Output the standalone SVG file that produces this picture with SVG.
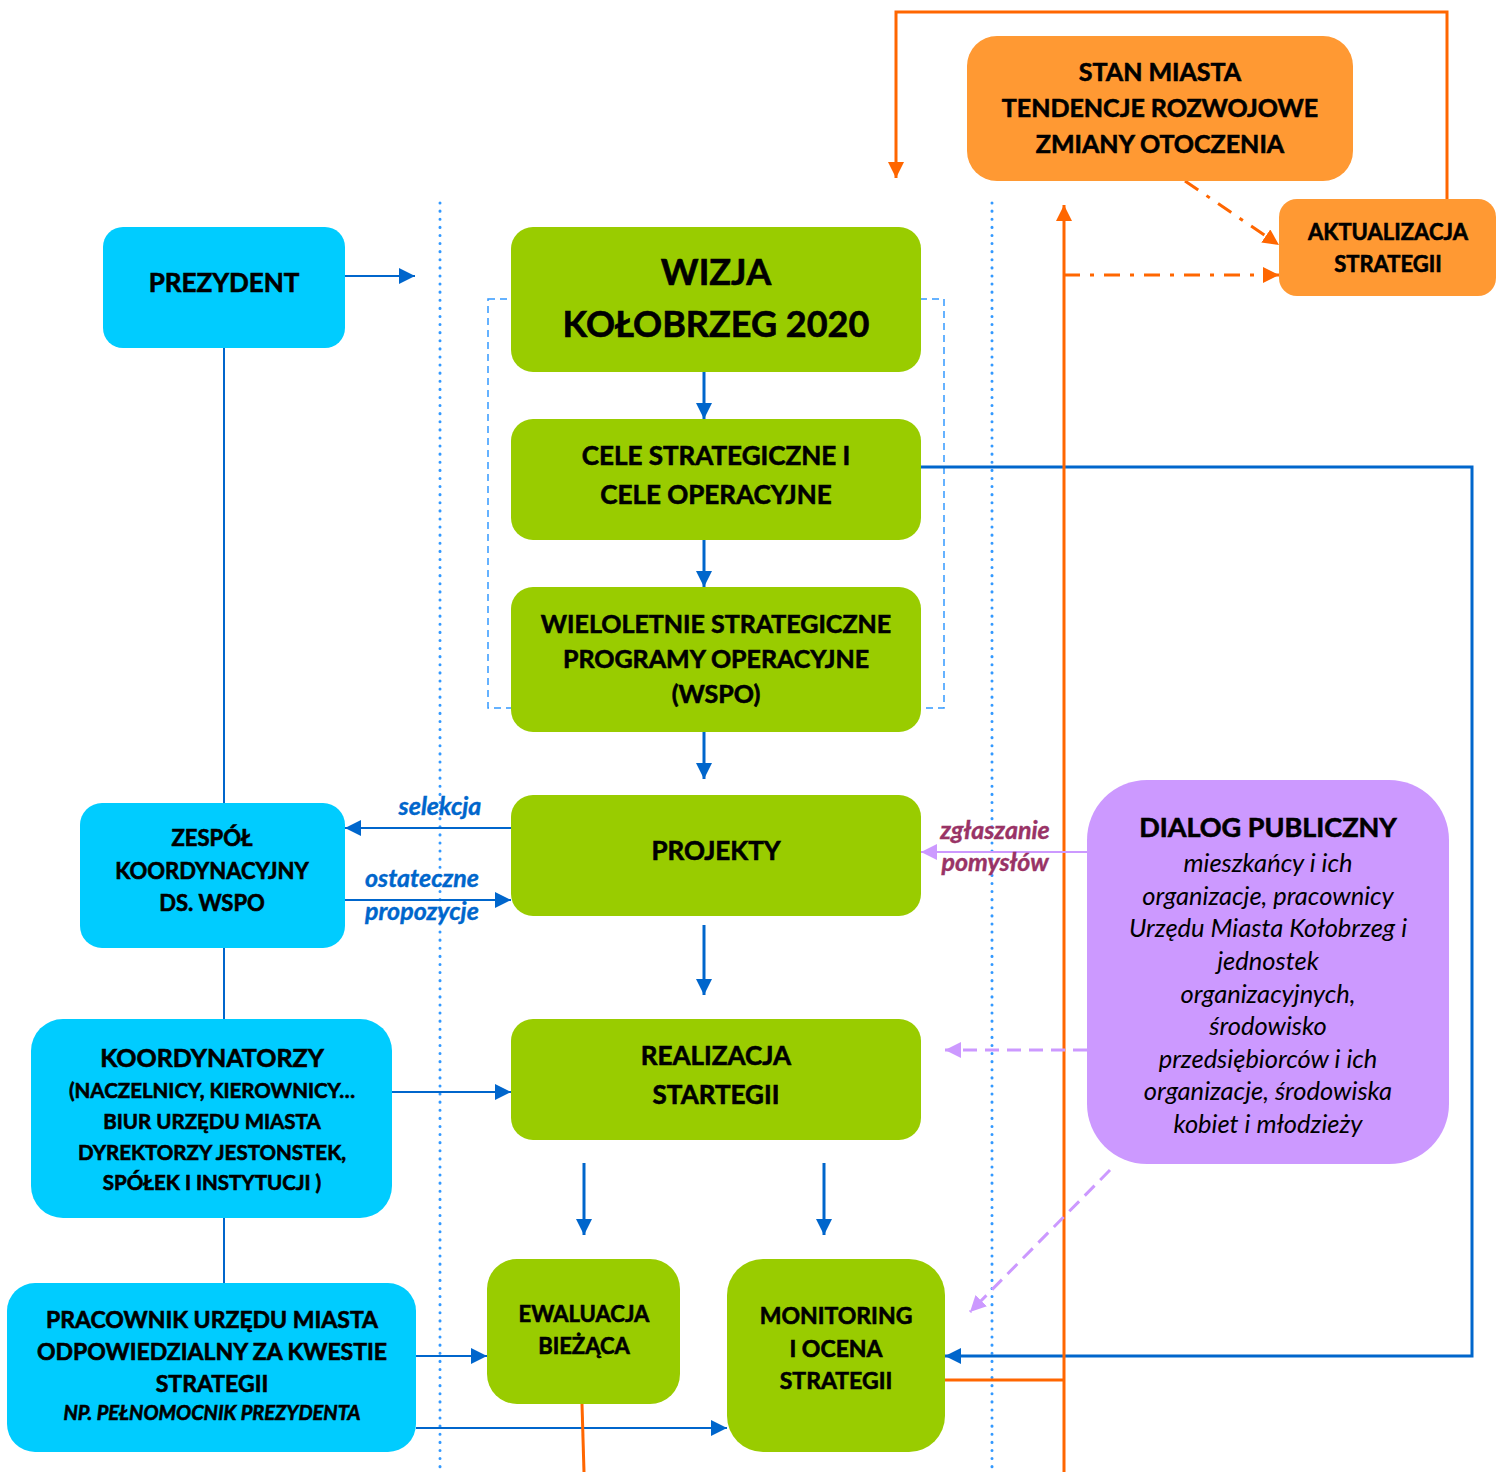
<svg xmlns="http://www.w3.org/2000/svg" width="1496" height="1472" viewBox="0 0 1496 1472">
<defs>
<style>
.t{font-family:Lato,"Liberation Sans",sans-serif;font-weight:bold;fill:#000;stroke:#000;stroke-width:0.6;text-anchor:middle}
.i{font-family:Lato,"Liberation Sans",sans-serif;font-style:italic;fill:#000;text-anchor:middle}
.lb{font-family:Lato,"Liberation Sans",sans-serif;font-style:italic;font-weight:bold;text-anchor:middle;stroke-width:0.4}
.cyan{fill:#00CCFF}
.green{fill:#99CC00}
.orange{fill:#FF9933}
.purple{fill:#CC99FF}
.b{stroke:#0066CC;fill:none}
.o{stroke:#FF6600;fill:none}
.p{stroke:#CC99FF;fill:none}
</style>
<marker id="ab" viewBox="0 0 10 10" refX="10" refY="5" markerWidth="16" markerHeight="16" markerUnits="userSpaceOnUse" orient="auto"><path d="M0,0L10,5L0,10z" fill="#0066CC"/></marker>
<marker id="ao" viewBox="0 0 10 10" refX="10" refY="5" markerWidth="16" markerHeight="16" markerUnits="userSpaceOnUse" orient="auto"><path d="M0,0L10,5L0,10z" fill="#FF6600"/></marker>
<marker id="ap" viewBox="0 0 10 10" refX="10" refY="5" markerWidth="16" markerHeight="16" markerUnits="userSpaceOnUse" orient="auto"><path d="M0,0L10,5L0,10z" fill="#CC99FF"/></marker>
</defs>
<rect width="1496" height="1472" fill="#fff"/>

<g id="guides">
<line x1="440" y1="203" x2="440" y2="1472" stroke="#3399FF" stroke-width="3" stroke-dasharray="0.1 8" stroke-linecap="round"/>
<line x1="992" y1="203" x2="992" y2="1472" stroke="#3399FF" stroke-width="3" stroke-dasharray="0.1 8" stroke-linecap="round"/>
<rect x="488" y="299" width="456" height="409" fill="none" stroke="#3399FF" stroke-width="1.5" stroke-dasharray="7 5"/>
</g>

<g id="connectors">
<line class="b" stroke-width="2" x1="224" y1="348" x2="224" y2="1283"/>
<line class="b" stroke-width="2" x1="345" y1="276" x2="415" y2="276" marker-end="url(#ab)"/>
<line class="b" stroke-width="3" x1="704" y1="372" x2="704" y2="419" marker-end="url(#ab)"/>
<line class="b" stroke-width="3" x1="704" y1="540" x2="704" y2="587" marker-end="url(#ab)"/>
<line class="b" stroke-width="3" x1="704" y1="732" x2="704" y2="779" marker-end="url(#ab)"/>
<line class="b" stroke-width="3" x1="704" y1="925" x2="704" y2="995" marker-end="url(#ab)"/>
<line class="b" stroke-width="3" x1="584" y1="1163" x2="584" y2="1235" marker-end="url(#ab)"/>
<line class="b" stroke-width="3" x1="824" y1="1163" x2="824" y2="1235" marker-end="url(#ab)"/>
<line class="b" stroke-width="2" x1="511" y1="828" x2="345" y2="828" marker-end="url(#ab)"/>
<line class="b" stroke-width="2" x1="345" y1="900" x2="511" y2="900" marker-end="url(#ab)"/>
<line class="b" stroke-width="2" x1="392" y1="1092" x2="511" y2="1092" marker-end="url(#ab)"/>
<line class="b" stroke-width="2" x1="416" y1="1356" x2="487" y2="1356" marker-end="url(#ab)"/>
<line class="b" stroke-width="2" x1="416" y1="1428" x2="727" y2="1428" marker-end="url(#ab)"/>
<polyline class="b" stroke-width="3" points="921,467 1472,467 1472,1356 945,1356" marker-end="url(#ab)"/>

<polyline class="o" stroke-width="3" points="1447,199 1447,12 896,12 896,178" marker-end="url(#ao)"/>
<line class="o" stroke-width="3" x1="1064" y1="1472" x2="1064" y2="205" marker-end="url(#ao)"/>
<line class="o" stroke-width="3" x1="945" y1="1380" x2="1064" y2="1380"/>
<line class="o" stroke-width="3" x1="582" y1="1404" x2="584" y2="1472"/>
<line class="o" stroke-width="3" x1="1064" y1="275" x2="1279" y2="275" stroke-dasharray="16 10 4 10" marker-end="url(#ao)"/>
<line class="o" stroke-width="3" x1="1185" y1="181" x2="1279" y2="245" stroke-dasharray="16 10 4 10" marker-end="url(#ao)"/>

<line class="p" stroke-width="2" x1="1087" y1="852" x2="921" y2="852" marker-end="url(#ap)"/>
<line class="p" stroke-width="3" x1="1087" y1="1050" x2="945" y2="1050" stroke-dasharray="14 8" marker-end="url(#ap)"/>
<line class="p" stroke-width="3" x1="1110" y1="1170" x2="970" y2="1312" stroke-dasharray="14 8" marker-end="url(#ap)"/>

<text class="lb" x="440" y="815" font-size="25" fill="#0066CC" stroke="#0066CC">selekcja</text>
<text class="lb" x="422" y="887" font-size="25" fill="#0066CC" stroke="#0066CC">ostateczne</text>
<text class="lb" x="422" y="920" font-size="25" fill="#0066CC" stroke="#0066CC">propozycje</text>
<text class="lb" x="995" y="839" font-size="25" fill="#993366" stroke="#993366">zgłaszanie</text>
<text class="lb" x="995" y="871" font-size="25" fill="#993366" stroke="#993366">pomysłów</text>
</g>

<g id="prezydent">
<rect class="cyan" x="103" y="227" width="242" height="121" rx="20"/>
<text class="t" x="224" y="292" font-size="26">PREZYDENT</text>
</g>
<g id="wizja">
<rect class="green" x="511" y="227" width="410" height="145" rx="22"/>
<text class="t" x="716" y="285" font-size="36">WIZJA</text>
<text class="t" x="716" y="337" font-size="36">KOŁOBRZEG 2020</text>
</g>
<g id="cele">
<rect class="green" x="511" y="419" width="410" height="121" rx="22"/>
<text class="t" x="716" y="465" font-size="26">CELE STRATEGICZNE I</text>
<text class="t" x="716" y="504" font-size="26">CELE OPERACYJNE</text>
</g>
<g id="wspo">
<rect class="green" x="511" y="587" width="410" height="145" rx="22"/>
<text class="t" x="716" y="633" font-size="25">WIELOLETNIE STRATEGICZNE</text>
<text class="t" x="716" y="668" font-size="25">PROGRAMY OPERACYJNE</text>
<text class="t" x="716" y="703" font-size="25">(WSPO)</text>
</g>
<g id="projekty">
<rect class="green" x="511" y="795" width="410" height="121" rx="22"/>
<text class="t" x="716" y="860" font-size="26">PROJEKTY</text>
</g>
<g id="realizacja">
<rect class="green" x="511" y="1019" width="410" height="121" rx="22"/>
<text class="t" x="716" y="1065" font-size="26">REALIZACJA</text>
<text class="t" x="716" y="1104" font-size="26">STARTEGII</text>
</g>
<g id="ewaluacja">
<rect class="green" x="487" y="1259" width="193" height="145" rx="30"/>
<text class="t" x="584" y="1322" font-size="22">EWALUACJA</text>
<text class="t" x="584" y="1354" font-size="22">BIEŻĄCA</text>
</g>
<g id="monitoring">
<rect class="green" x="727" y="1259" width="218" height="193" rx="36"/>
<text class="t" x="836" y="1324" font-size="23">MONITORING</text>
<text class="t" x="836" y="1357" font-size="23">I OCENA</text>
<text class="t" x="836" y="1389" font-size="23">STRATEGII</text>
</g>
<g id="zespol">
<rect class="cyan" x="80" y="803" width="265" height="145" rx="22"/>
<text class="t" x="212" y="846" font-size="22">ZESPÓŁ</text>
<text class="t" x="212" y="879" font-size="22">KOORDYNACYJNY</text>
<text class="t" x="212" y="911" font-size="22">DS. WSPO</text>
</g>
<g id="koordynatorzy">
<rect class="cyan" x="31" y="1019" width="361" height="199" rx="32"/>
<text class="t" x="212" y="1067" font-size="25">KOORDYNATORZY</text>
<text class="t" x="212" y="1098" font-size="20.5">(NACZELNICY, KIEROWNICY…</text>
<text class="t" x="212" y="1129" font-size="20.5">BIUR URZĘDU  MIASTA</text>
<text class="t" x="212" y="1160" font-size="20.5">DYREKTORZY JESTONSTEK,</text>
<text class="t" x="212" y="1190" font-size="20.5">SPÓŁEK I INSTYTUCJI )</text>
</g>
<g id="pracownik">
<rect class="cyan" x="7" y="1283" width="409" height="169" rx="28"/>
<text class="t" x="212" y="1328" font-size="23">PRACOWNIK URZĘDU MIASTA</text>
<text class="t" x="212" y="1360" font-size="23">ODPOWIEDZIALNY ZA KWESTIE</text>
<text class="t" x="212" y="1392" font-size="23">STRATEGII</text>
<text class="t" x="212" y="1420" font-size="20" font-style="italic">NP. PEŁNOMOCNIK  PREZYDENTA</text>
</g>
<g id="stan">
<rect class="orange" x="967" y="36" width="386" height="145" rx="30"/>
<text class="t" x="1160" y="81" font-size="25">STAN MIASTA</text>
<text class="t" x="1160" y="117" font-size="25">TENDENCJE ROZWOJOWE</text>
<text class="t" x="1160" y="153" font-size="25">ZMIANY OTOCZENIA</text>
</g>
<g id="aktualizacja">
<rect class="orange" x="1279" y="199" width="217" height="97" rx="18"/>
<text class="t" x="1388" y="240" font-size="22">AKTUALIZACJA</text>
<text class="t" x="1388" y="272" font-size="22">STRATEGII</text>
</g>
<g id="dialog">
<rect class="purple" x="1087" y="780" width="362" height="384" rx="60"/>
<text class="t" x="1268" y="837" font-size="27">DIALOG PUBLICZNY</text>
<text class="i" x="1268" y="872" font-size="25.5">mieszkańcy i ich</text>
<text class="i" x="1268" y="905" font-size="25.5">organizacje, pracownicy</text>
<text class="i" x="1268" y="937" font-size="25.5">Urzędu Miasta Kołobrzeg i</text>
<text class="i" x="1268" y="970" font-size="25.5">jednostek</text>
<text class="i" x="1268" y="1003" font-size="25.5">organizacyjnych,</text>
<text class="i" x="1268" y="1035" font-size="25.5">środowisko</text>
<text class="i" x="1268" y="1068" font-size="25.5">przedsiębiorców  i ich</text>
<text class="i" x="1268" y="1100" font-size="25.5">organizacje, środowiska</text>
<text class="i" x="1268" y="1133" font-size="25.5">kobiet i młodzieży</text>
</g>
</svg>
